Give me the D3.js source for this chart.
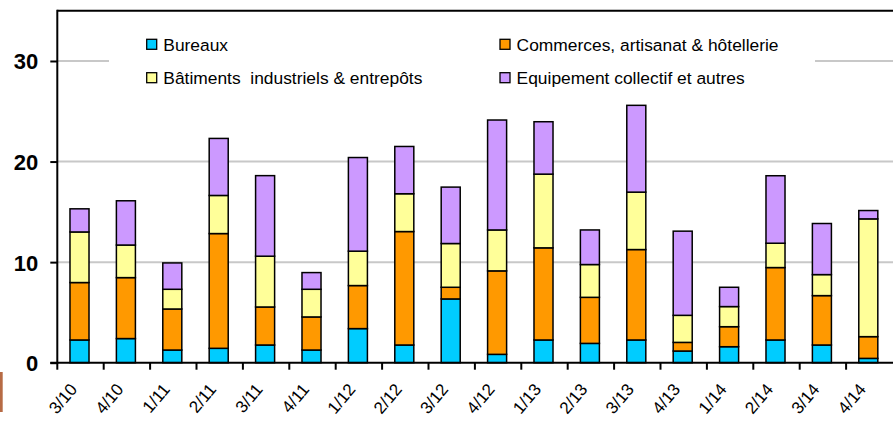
<!DOCTYPE html>
<html>
<head>
<meta charset="utf-8">
<script src="https://cdn.jsdelivr.net/npm/d3@7"></script>
<style>
  html, body { margin: 0; padding: 0; background: #fff; }
  svg { display: block; font-family: "Liberation Sans", Arial, sans-serif; }
</style>
</head>
<body>
<svg id="chart" width="893" height="424"></svg>
<script>
const categories = ["3/10","4/10","1/11","2/11","3/11","4/11","1/12","2/12","3/12","4/12","1/13","2/13","3/13","4/13","1/14","2/14","3/14","4/14"];
const seriesNames = ["Bureaux","Commerces, artisanat & hôtellerie","Bâtiments  industriels & entrepôts","Equipement collectif et autres"];
const bureaux     = [2.26, 2.40, 1.26, 1.43, 1.76, 1.26, 3.39, 1.76, 6.34, 0.83, 2.26, 1.92, 2.26, 1.16, 1.59, 2.26, 1.76, 0.43];
const commerces   = [5.71, 6.06, 4.08, 11.41, 3.78, 3.29, 4.28, 11.28, 1.16, 8.30, 9.16, 4.58, 8.99, 0.86, 1.99, 7.20, 4.91, 2.16];
const batiments   = [5.03, 3.24, 1.96, 3.79, 5.05, 2.75, 3.42, 3.76, 4.35, 4.07, 7.33, 3.26, 5.71, 2.69, 2.00, 2.42, 2.09, 11.71];
const equipement  = [2.30, 4.40, 2.62, 5.67, 8.01, 1.66, 9.31, 4.70, 5.61, 10.93, 5.21, 3.44, 8.63, 8.37, 1.92, 6.71, 5.08, 0.83];
const yTicks = [0, 10, 20, 30];
const colors = ["#00CCFF", "#FF9900", "#FFFF99", "#CC99FF"];

(function () {
const svg = d3.select("#chart");
const pLeft = 57.3, pRight = 892.5, pTop = 10.7, pBottom = 362.7;

const keys = ["b","c","i","e"];
const table = categories.map((c, i) => ({cat: c, b: bureaux[i], c: commerces[i], i: batiments[i], e: equipement[i]}));
const stacked = d3.stack().keys(keys)(table);

const x = d3.scaleBand().domain(categories).range([pLeft - 1, pRight - 1]).paddingInner(0.59).paddingOuter(0.295);
const y = d3.scaleLinear().domain([0, 35]).range([pBottom, pTop]);
const step = (pRight - pLeft) / categories.length;

// brown edge mark
svg.append("rect").attr("x", 0).attr("y", 372).attr("width", 2.7).attr("height", 40).attr("fill", "#b76b45");

// gridlines
svg.append("g").selectAll("line").data(yTicks.filter(d => d > 0)).join("line")
  .attr("x1", pLeft).attr("x2", 893)
  .attr("y1", d => y(d)).attr("y2", d => y(d))
  .attr("stroke", "#c8c8c8").attr("stroke-width", 2);

// top border
svg.append("line").attr("x1", pLeft).attr("x2", 893).attr("y1", pTop).attr("y2", pTop)
  .attr("stroke", "#000").attr("stroke-width", 2);

// legend background
svg.append("rect").attr("x", 109).attr("y", 22).attr("width", 706).attr("height", 73).attr("fill", "#fff");

// bars
const layers = svg.append("g").selectAll("g").data(stacked).join("g")
  .attr("fill", (d, i) => colors[i]);
layers.selectAll("rect").data(d => d).join("rect")
  .attr("x", d => x(d.data.cat))
  .attr("width", x.bandwidth())
  .attr("y", d => y(d[1]))
  .attr("height", d => y(d[0]) - y(d[1]))
  .attr("stroke", "#000").attr("stroke-width", 1.5);

// y axis
const yAxis = svg.append("g").attr("transform", `translate(${pLeft},0)`)
  .call(d3.axisLeft(y).tickValues(yTicks).tickSize(7).tickSizeOuter(0).tickPadding(12).tickFormat(d3.format("d")));
yAxis.select(".domain").remove();
yAxis.selectAll(".tick line").attr("stroke", "#000").attr("stroke-width", 2);
yAxis.selectAll(".tick text").attr("font-size", 22).attr("font-weight", "bold").attr("fill", "#000")
  .attr("font-family", "'Liberation Sans', Arial, sans-serif").attr("dy", "0.36em");
svg.append("line").attr("x1", pLeft).attr("x2", pLeft).attr("y1", pTop - 1).attr("y2", pBottom + 1)
  .attr("stroke", "#000").attr("stroke-width", 2);

// x axis
svg.append("line").attr("x1", pLeft - 7).attr("x2", 893).attr("y1", pBottom).attr("y2", pBottom)
  .attr("stroke", "#000").attr("stroke-width", 2);
svg.append("g").selectAll("line").data(categories).join("line")
  .attr("x1", (d, i) => pLeft + i * step).attr("x2", (d, i) => pLeft + i * step)
  .attr("y1", pBottom).attr("y2", pBottom + 7)
  .attr("stroke", "#000").attr("stroke-width", 2);
svg.append("g").selectAll("text").data(categories).join("text")
  .attr("transform", d => `translate(${x(d) + x.bandwidth() / 2 - 1.5},${pBottom + 27}) rotate(-50)`)
  .attr("text-anchor", "end")
  .attr("font-size", 17)
  .attr("fill", "#000")
  .text(d => d);

// legend
const legendPos = [[146.7, 39.3], [500, 39.3], [146.7, 72.7], [500, 72.7]];
const lg = svg.append("g").selectAll("g").data(seriesNames).join("g")
  .attr("transform", (d, i) => `translate(${legendPos[i][0]},${legendPos[i][1]})`);
lg.append("rect").attr("width", 10).attr("height", 10)
  .attr("fill", (d, i) => colors[i]).attr("stroke", "#000").attr("stroke-width", 1.3);
lg.append("text").attr("x", 16.6).attr("y", 11.5).attr("font-size", 17.4).attr("fill", "#000")
  .style("white-space", "pre")
  .text(d => d);
})();
</script>
</body>
</html>
